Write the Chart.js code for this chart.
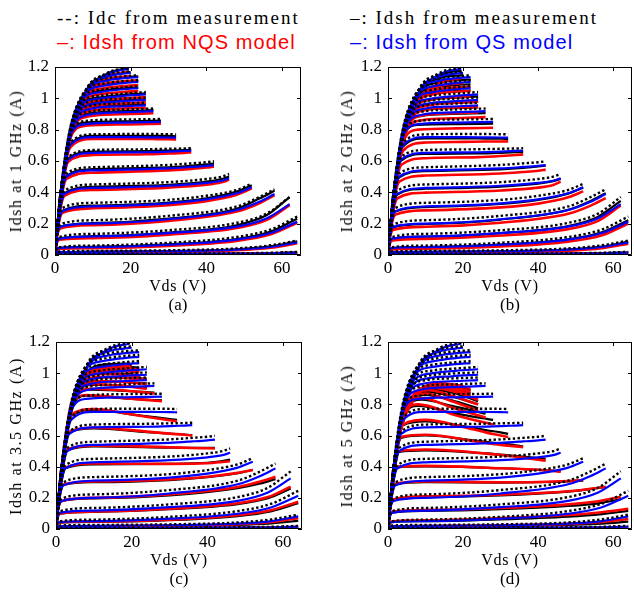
<!DOCTYPE html>
<html>
<head>
<meta charset="utf-8">
<script src="https://cdn.jsdelivr.net/npm/chart.js@4.4.1/dist/chart.umd.min.js"></script>
<style>
  html, body { margin: 0; padding: 0; background: #fff; }
  #page { position: relative; width: 634px; height: 594px; overflow: hidden; }
  canvas { position: absolute; }
  .txt { position: absolute; white-space: nowrap; line-height: 1; transform: translate(-50%, -50%); font-family: "Liberation Serif", "Times New Roman", serif; color: #000; }
  .ytitle { font-size: 16px; letter-spacing: 1.6px; transform: translate(-50%, -50%) rotate(-90deg); }
  .xtitle { font-size: 16px; letter-spacing: 0.8px; }
  .tag { font-size: 17px; }
  .leg { position: absolute; white-space: nowrap; line-height: 1; transform: translateY(-50%); }
  .leg.serif { font-family: "Liberation Serif", serif; font-size: 19px; letter-spacing: 2px; color: #000; }
  .leg.sans { font-family: "Liberation Sans", Arial, sans-serif; font-size: 20px; letter-spacing: 1.1px; }
</style>
</head>
<body>
<div id="page">
  <div class="leg serif" style="left:57px; top:17px;">--: Idc from measurement</div>
  <div class="leg serif" style="left:350px; top:17px;">&ndash;: Idsh from measurement</div>
  <div class="leg sans" style="left:57px; top:42px; color:#ff0000;">&ndash;: Idsh from NQS model</div>
  <div class="leg sans" style="left:350px; top:42px; color:#0000ff;">&ndash;: Idsh from QS model</div>
</div>
<script>
// tick labels
const vdsTicks = [0, 20, 40, 60];
const idsTicks = [0, 0.2, 0.4, 0.6, 0.8, 1, 1.2];

// Vds sample points of each swept curve (V), lowest gate bias first
const curveVds = [
  [0, 0.2, 1, 10, 30, 48, 57, 64],
  [0, 0.2, 1, 10, 30, 48, 57, 64],
  [0, 0.3, 1, 10, 30, 48, 57, 64],
  [0, 0.4, 1.2, 10, 30, 48, 56, 62],
  [0, 0.5, 1.5, 10, 30, 48, 54, 58],
  [0, 0.6, 2, 10, 30, 40, 48, 52],
  [0, 0.8, 2.5, 10, 30, 40, 44, 46],
  [0, 1, 3, 10, 30, 36, 40, 42],
  [0, 1.2, 3.5, 10, 24, 30, 34, 36],
  [0, 1.4, 4, 10, 20, 26, 30, 32],
  [0, 1.5, 4, 8, 18, 28],
  [0, 1.5, 4.5, 9, 17, 26],
  [0, 1.5, 5, 10, 17, 24],
  [0, 1.5, 5.5, 11, 17, 24],
  [0, 1.5, 6, 12, 18, 24],
  [0, 1.5, 6.5, 12, 18, 22],
  [0, 1.5, 7, 13, 18, 22],
  [0, 1.5, 8, 14, 19, 22],
  [0, 1.5, 8, 14, 18, 20],
  [0, 1.5, 4, 8, 14, 19.5]
];

// Idc from measurement (A), same in every panel
const idcMeas = [
  [0, 0.005, 0.007, 0.008, 0.009, 0.011, 0.014, 0.02],
  [0, 0.015, 0.022, 0.026, 0.03, 0.042, 0.062, 0.092],
  [0, 0.036, 0.05, 0.06, 0.078, 0.115, 0.163, 0.245],
  [0, 0.08, 0.115, 0.135, 0.158, 0.205, 0.265, 0.37],
  [0, 0.125, 0.195, 0.222, 0.25, 0.31, 0.37, 0.42],
  [0, 0.155, 0.3, 0.333, 0.352, 0.378, 0.415, 0.455],
  [0, 0.205, 0.41, 0.45, 0.465, 0.485, 0.5, 0.517],
  [0, 0.255, 0.52, 0.56, 0.575, 0.585, 0.592, 0.598],
  [0, 0.305, 0.625, 0.67, 0.675, 0.678, 0.68, 0.682],
  [0, 0.355, 0.715, 0.77, 0.772, 0.772, 0.771, 0.77],
  [0, 0.375, 0.775, 0.855, 0.865, 0.868],
  [0, 0.38, 0.825, 0.915, 0.928, 0.935],
  [0, 0.385, 0.865, 0.955, 0.966, 0.972],
  [0, 0.39, 0.905, 0.985, 0.997, 1.005],
  [0, 0.395, 0.945, 1.018, 1.03, 1.04],
  [0, 0.395, 0.985, 1.055, 1.07, 1.078],
  [0, 0.4, 1.015, 1.095, 1.11, 1.117],
  [0, 0.405, 1.045, 1.128, 1.142, 1.147],
  [0, 0.405, 1.045, 1.152, 1.168, 1.172],
  [0, 0.405, 0.81, 1.045, 1.165, 1.195]
];

// Idsh from QS model (A), frequency independent
const idshQS = [
  [0, 0.004, 0.006, 0.006, 0.007, 0.009, 0.011, 0.015],
  [0, 0.012, 0.018, 0.02, 0.024, 0.034, 0.051, 0.081],
  [0, 0.032, 0.044, 0.05, 0.066, 0.098, 0.14, 0.213],
  [0, 0.075, 0.105, 0.118, 0.14, 0.181, 0.235, 0.325],
  [0, 0.12, 0.18, 0.2, 0.228, 0.287, 0.34, 0.389],
  [0, 0.15, 0.28, 0.31, 0.33, 0.355, 0.394, 0.432],
  [0, 0.2, 0.39, 0.428, 0.442, 0.46, 0.474, 0.489],
  [0, 0.25, 0.5, 0.54, 0.553, 0.562, 0.569, 0.574],
  [0, 0.3, 0.61, 0.652, 0.656, 0.66, 0.664, 0.666],
  [0, 0.35, 0.7, 0.752, 0.752, 0.751, 0.75, 0.749],
  [0, 0.37, 0.76, 0.835, 0.845, 0.85],
  [0, 0.375, 0.81, 0.895, 0.91, 0.918],
  [0, 0.38, 0.85, 0.935, 0.948, 0.955],
  [0, 0.385, 0.89, 0.968, 0.98, 0.99],
  [0, 0.39, 0.93, 1.0, 1.015, 1.025],
  [0, 0.39, 0.97, 1.04, 1.058, 1.065],
  [0, 0.395, 1.0, 1.08, 1.097, 1.105],
  [0, 0.4, 1.03, 1.115, 1.13, 1.135],
  [0, 0.4, 1.03, 1.14, 1.158, 1.163],
  [0, 0.4, 0.8, 1.03, 1.155, 1.19]
];

// Idsh from measurement (A)
const idshMeas1G = [
  [0, 0.004, 0.006, 0.006, 0.007, 0.009, 0.012, 0.017],
  [0, 0.012, 0.018, 0.021, 0.025, 0.036, 0.055, 0.088],
  [0, 0.032, 0.045, 0.052, 0.068, 0.102, 0.15, 0.232],
  [0, 0.075, 0.106, 0.12, 0.143, 0.19, 0.255, 0.37],
  [0, 0.12, 0.182, 0.203, 0.232, 0.295, 0.36, 0.41],
  [0, 0.15, 0.283, 0.315, 0.335, 0.362, 0.405, 0.445],
  [0, 0.2, 0.395, 0.435, 0.448, 0.468, 0.485, 0.5],
  [0, 0.25, 0.505, 0.548, 0.56, 0.57, 0.578, 0.585],
  [0, 0.3, 0.615, 0.66, 0.663, 0.667, 0.67, 0.673],
  [0, 0.35, 0.705, 0.76, 0.76, 0.76, 0.76, 0.758],
  [0, 0.37, 0.765, 0.845, 0.853, 0.858],
  [0, 0.375, 0.815, 0.902, 0.917, 0.925],
  [0, 0.38, 0.855, 0.942, 0.955, 0.962],
  [0, 0.385, 0.895, 0.975, 0.987, 0.997],
  [0, 0.39, 0.935, 1.007, 1.022, 1.032],
  [0, 0.39, 0.975, 1.047, 1.064, 1.07],
  [0, 0.395, 1.005, 1.087, 1.103, 1.11],
  [0, 0.4, 1.035, 1.12, 1.135, 1.14],
  [0, 0.4, 1.035, 1.145, 1.162, 1.167],
  [0, 0.4, 0.805, 1.035, 1.16, 1.192]
];
const idshMeas2G = [
  [0, 0.004, 0.006, 0.006, 0.007, 0.009, 0.012, 0.016],
  [0, 0.012, 0.018, 0.02, 0.024, 0.035, 0.053, 0.085],
  [0, 0.031, 0.043, 0.05, 0.066, 0.1, 0.145, 0.222],
  [0, 0.074, 0.104, 0.117, 0.14, 0.185, 0.245, 0.345],
  [0, 0.118, 0.178, 0.198, 0.226, 0.288, 0.345, 0.395],
  [0, 0.148, 0.277, 0.306, 0.326, 0.352, 0.392, 0.43],
  [0, 0.198, 0.386, 0.423, 0.437, 0.456, 0.472, 0.486],
  [0, 0.248, 0.495, 0.535, 0.547, 0.556, 0.565, 0.57],
  [0, 0.298, 0.603, 0.645, 0.648, 0.652, 0.656, 0.658],
  [0, 0.348, 0.692, 0.745, 0.745, 0.743, 0.742, 0.74],
  [0, 0.368, 0.752, 0.83, 0.836, 0.838],
  [0, 0.372, 0.8, 0.888, 0.9, 0.905],
  [0, 0.378, 0.842, 0.928, 0.938, 0.942],
  [0, 0.383, 0.882, 0.96, 0.97, 0.977],
  [0, 0.388, 0.922, 0.993, 1.005, 1.012],
  [0, 0.388, 0.962, 1.032, 1.046, 1.05],
  [0, 0.393, 0.992, 1.07, 1.084, 1.09],
  [0, 0.398, 1.022, 1.103, 1.116, 1.12],
  [0, 0.398, 1.022, 1.13, 1.145, 1.148],
  [0, 0.398, 0.8, 1.025, 1.148, 1.178]
];
const idshMeas35G = [
  [0, 0.003, 0.005, 0.005, 0.006, 0.007, 0.009, 0.011],
  [0, 0.01, 0.015, 0.017, 0.02, 0.026, 0.036, 0.052],
  [0, 0.03, 0.041, 0.046, 0.057, 0.083, 0.115, 0.165],
  [0, 0.072, 0.098, 0.11, 0.127, 0.16, 0.198, 0.26],
  [0, 0.118, 0.178, 0.196, 0.215, 0.262, 0.292, 0.32],
  [0, 0.15, 0.282, 0.3, 0.314, 0.332, 0.358, 0.38],
  [0, 0.2, 0.39, 0.415, 0.418, 0.425, 0.436, 0.445],
  [0, 0.252, 0.505, 0.53, 0.522, 0.52, 0.52, 0.52],
  [0, 0.302, 0.62, 0.645, 0.622, 0.612, 0.606, 0.602],
  [0, 0.355, 0.725, 0.765, 0.735, 0.718, 0.706, 0.7],
  [0, 0.37, 0.775, 0.855, 0.838, 0.825],
  [0, 0.375, 0.815, 0.895, 0.888, 0.875],
  [0, 0.38, 0.855, 0.925, 0.92, 0.905],
  [0, 0.385, 0.885, 0.948, 0.945, 0.935],
  [0, 0.39, 0.915, 0.975, 0.972, 0.965],
  [0, 0.39, 0.948, 0.998, 0.995, 0.988],
  [0, 0.395, 0.975, 1.02, 1.018, 1.012],
  [0, 0.4, 1.0, 1.04, 1.04, 1.035],
  [0, 0.4, 1.0, 1.055, 1.055, 1.052],
  [0, 0.4, 0.8, 1.0, 1.058, 1.062]
];
const idshMeas5G = [
  [0, 0.003, 0.004, 0.004, 0.005, 0.006, 0.007, 0.009],
  [0, 0.009, 0.014, 0.016, 0.019, 0.026, 0.035, 0.047],
  [0, 0.028, 0.044, 0.05, 0.062, 0.08, 0.096, 0.116],
  [0, 0.072, 0.105, 0.116, 0.127, 0.148, 0.165, 0.19],
  [0, 0.118, 0.185, 0.204, 0.215, 0.24, 0.256, 0.27],
  [0, 0.15, 0.285, 0.3, 0.298, 0.3, 0.305, 0.31],
  [0, 0.2, 0.395, 0.402, 0.39, 0.38, 0.374, 0.37],
  [0, 0.25, 0.495, 0.505, 0.478, 0.465, 0.455, 0.45],
  [0, 0.3, 0.585, 0.6, 0.565, 0.548, 0.537, 0.53],
  [0, 0.35, 0.665, 0.69, 0.66, 0.635, 0.62, 0.61],
  [0, 0.36, 0.715, 0.79, 0.74, 0.7],
  [0, 0.365, 0.755, 0.83, 0.79, 0.74],
  [0, 0.37, 0.785, 0.86, 0.825, 0.775],
  [0, 0.375, 0.805, 0.88, 0.85, 0.8],
  [0, 0.38, 0.825, 0.895, 0.87, 0.82],
  [0, 0.38, 0.845, 0.905, 0.885, 0.85],
  [0, 0.385, 0.855, 0.915, 0.9, 0.87],
  [0, 0.39, 0.865, 0.92, 0.91, 0.89],
  [0, 0.39, 0.865, 0.925, 0.915, 0.905],
  [0, 0.39, 0.745, 0.86, 0.92, 0.91]
];

// Idsh from NQS model (A)
const idshNqs1G = [
  [0, 0.003, 0.005, 0.005, 0.006, 0.008, 0.01, 0.013],
  [0, 0.01, 0.015, 0.017, 0.02, 0.03, 0.046, 0.075],
  [0, 0.028, 0.038, 0.044, 0.058, 0.09, 0.132, 0.205],
  [0, 0.07, 0.097, 0.108, 0.13, 0.172, 0.225, 0.318],
  [0, 0.115, 0.17, 0.19, 0.217, 0.277, 0.33, 0.382],
  [0, 0.145, 0.27, 0.298, 0.318, 0.343, 0.384, 0.425],
  [0, 0.195, 0.378, 0.415, 0.43, 0.448, 0.464, 0.48],
  [0, 0.245, 0.485, 0.525, 0.54, 0.55, 0.558, 0.565],
  [0, 0.295, 0.595, 0.638, 0.643, 0.648, 0.652, 0.655],
  [0, 0.345, 0.685, 0.74, 0.741, 0.74, 0.739, 0.738],
  [0, 0.365, 0.745, 0.825, 0.833, 0.838],
  [0, 0.37, 0.795, 0.885, 0.898, 0.905],
  [0, 0.375, 0.835, 0.922, 0.934, 0.94],
  [0, 0.38, 0.875, 0.955, 0.966, 0.974],
  [0, 0.385, 0.915, 0.988, 1.0, 1.008],
  [0, 0.385, 0.955, 1.026, 1.04, 1.046],
  [0, 0.39, 0.985, 1.065, 1.078, 1.085],
  [0, 0.395, 1.015, 1.098, 1.11, 1.115],
  [0, 0.395, 1.015, 1.122, 1.138, 1.142],
  [0, 0.395, 0.79, 1.015, 1.138, 1.17]
];
const idshNqs2G = [
  [0, 0.003, 0.004, 0.004, 0.005, 0.007, 0.009, 0.012],
  [0, 0.009, 0.013, 0.015, 0.018, 0.027, 0.043, 0.072],
  [0, 0.026, 0.035, 0.04, 0.054, 0.085, 0.126, 0.2],
  [0, 0.066, 0.092, 0.103, 0.124, 0.165, 0.218, 0.316],
  [0, 0.11, 0.162, 0.18, 0.206, 0.263, 0.315, 0.363],
  [0, 0.14, 0.258, 0.285, 0.304, 0.328, 0.368, 0.406],
  [0, 0.188, 0.362, 0.398, 0.412, 0.43, 0.447, 0.468],
  [0, 0.238, 0.468, 0.507, 0.52, 0.53, 0.538, 0.545],
  [0, 0.288, 0.575, 0.618, 0.625, 0.632, 0.638, 0.642],
  [0, 0.338, 0.665, 0.718, 0.722, 0.724, 0.724, 0.725],
  [0, 0.355, 0.72, 0.8, 0.808, 0.812],
  [0, 0.36, 0.77, 0.86, 0.872, 0.88],
  [0, 0.365, 0.81, 0.895, 0.905, 0.91],
  [0, 0.37, 0.85, 0.93, 0.94, 0.945],
  [0, 0.375, 0.885, 0.96, 0.972, 0.978],
  [0, 0.375, 0.92, 0.995, 1.008, 1.012],
  [0, 0.38, 0.95, 1.03, 1.042, 1.046],
  [0, 0.385, 0.975, 1.06, 1.07, 1.074],
  [0, 0.385, 0.975, 1.08, 1.094, 1.097],
  [0, 0.385, 0.77, 0.98, 1.1, 1.125]
];
const idshNqs35G = [
  [0, 0.003, 0.005, 0.005, 0.006, 0.007, 0.009, 0.012],
  [0, 0.01, 0.016, 0.018, 0.022, 0.03, 0.045, 0.07],
  [0, 0.03, 0.042, 0.048, 0.06, 0.088, 0.122, 0.175],
  [0, 0.072, 0.1, 0.112, 0.13, 0.165, 0.205, 0.272],
  [0, 0.118, 0.18, 0.2, 0.222, 0.27, 0.305, 0.335],
  [0, 0.15, 0.285, 0.305, 0.318, 0.335, 0.36, 0.378],
  [0, 0.2, 0.395, 0.42, 0.418, 0.422, 0.43, 0.435],
  [0, 0.252, 0.51, 0.535, 0.525, 0.52, 0.518, 0.517],
  [0, 0.302, 0.625, 0.65, 0.625, 0.612, 0.605, 0.6],
  [0, 0.355, 0.73, 0.77, 0.735, 0.712, 0.698, 0.69],
  [0, 0.37, 0.78, 0.86, 0.84, 0.82],
  [0, 0.375, 0.82, 0.9, 0.89, 0.87],
  [0, 0.38, 0.86, 0.93, 0.92, 0.9],
  [0, 0.385, 0.89, 0.95, 0.945, 0.93],
  [0, 0.39, 0.92, 0.975, 0.97, 0.96],
  [0, 0.39, 0.95, 0.995, 0.99, 0.98],
  [0, 0.395, 0.97, 1.015, 1.012, 1.005],
  [0, 0.4, 0.99, 1.03, 1.03, 1.025],
  [0, 0.4, 0.99, 1.04, 1.04, 1.038],
  [0, 0.4, 0.8, 0.99, 1.04, 1.045]
];
const idshNqs5G = [
  [0, 0.003, 0.004, 0.004, 0.005, 0.006, 0.008, 0.01],
  [0, 0.01, 0.016, 0.019, 0.024, 0.033, 0.045, 0.064],
  [0, 0.03, 0.048, 0.056, 0.07, 0.09, 0.108, 0.13],
  [0, 0.075, 0.11, 0.122, 0.135, 0.158, 0.178, 0.207],
  [0, 0.12, 0.19, 0.21, 0.22, 0.242, 0.258, 0.27],
  [0, 0.15, 0.29, 0.305, 0.3, 0.302, 0.308, 0.314],
  [0, 0.2, 0.4, 0.405, 0.39, 0.38, 0.372, 0.367],
  [0, 0.25, 0.5, 0.51, 0.475, 0.458, 0.445, 0.438],
  [0, 0.3, 0.59, 0.605, 0.56, 0.54, 0.53, 0.525],
  [0, 0.35, 0.67, 0.7, 0.655, 0.62, 0.6, 0.59],
  [0, 0.36, 0.72, 0.8, 0.73, 0.67],
  [0, 0.365, 0.76, 0.84, 0.78, 0.715],
  [0, 0.37, 0.79, 0.87, 0.82, 0.76],
  [0, 0.375, 0.81, 0.89, 0.855, 0.8],
  [0, 0.38, 0.83, 0.905, 0.88, 0.83],
  [0, 0.38, 0.85, 0.915, 0.895, 0.86],
  [0, 0.385, 0.86, 0.925, 0.91, 0.88],
  [0, 0.39, 0.87, 0.93, 0.92, 0.9],
  [0, 0.39, 0.87, 0.935, 0.925, 0.915],
  [0, 0.39, 0.75, 0.87, 0.93, 0.92]
];

// plot boxes in page pixels: left, top, right, bottom
const panels = [
  { tag: '(a)', freq: '1 GHz',   box: [55, 67, 301, 255],  ytx: 16,  meas: idshMeas1G,  nqs: idshNqs1G },
  { tag: '(b)', freq: '2 GHz',   box: [388, 67, 632, 255], ytx: 347, meas: idshMeas2G,  nqs: idshNqs2G },
  { tag: '(c)', freq: '3.5 GHz', box: [56, 342, 302, 529], ytx: 16,  meas: idshMeas35G, nqs: idshNqs35G },
  { tag: '(d)', freq: '5 GHz',   box: [388, 342, 632, 529], ytx: 347, meas: idshMeas5G,  nqs: idshNqs5G }
];

const PAD_TOP = 17, Y_W = 55, X_H = 45, PAD_R = 2;

// MATLAB-like box with inward ticks on all four sides
const boxTicks = {
  id: 'boxTicks',
  afterDatasetsDraw(chart) {
    const { ctx, chartArea: a, scales: { x, y } } = chart;
    ctx.save();
    ctx.strokeStyle = '#000';
    ctx.lineWidth = 1;
    ctx.beginPath();
    ctx.rect(a.left + 0.5, a.top + 0.5, a.right - a.left - 1, a.bottom - a.top - 1);
    x.ticks.forEach(t => {
      const px = Math.round(x.getPixelForValue(t.value)) + 0.5;
      ctx.moveTo(px, a.bottom); ctx.lineTo(px, a.bottom - 4);
      ctx.moveTo(px, a.top); ctx.lineTo(px, a.top + 4);
    });
    y.ticks.forEach(t => {
      const py = Math.round(y.getPixelForValue(t.value)) + 0.5;
      ctx.moveTo(a.left, py); ctx.lineTo(a.left + 4, py);
      ctx.moveTo(a.right, py); ctx.lineTo(a.right - 4, py);
    });
    ctx.stroke();
    ctx.restore();
  }
};

function curves(yLists, style) {
  return yLists.map((ys, i) => Object.assign({
    data: ys.map((v, j) => ({ x: curveVds[i][j], y: v })),
    pointRadius: 0,
    fill: false,
    cubicInterpolationMode: 'monotone'
  }, style));
}

const tickFont = { family: '"Liberation Serif", "Times New Roman", serif', size: 17 };
const page = document.getElementById('page');

panels.forEach(p => {
  const [l, t, r, b] = p.box;
  const cv = document.createElement('canvas');
  const w = r - l + Y_W + PAD_R, h = b - t + PAD_TOP + X_H;
  cv.width = w; cv.height = h;
  cv.style.left = (l - Y_W) + 'px';
  cv.style.top = (t - PAD_TOP) + 'px';
  cv.style.width = w + 'px'; cv.style.height = h + 'px';
  page.appendChild(cv);

  const datasets = [
    ...curves(idcMeas, { borderColor: '#000', borderWidth: 2.4, borderDash: [2.4, 2.4], order: 0 }),
    ...curves(idshQS, { borderColor: '#0000ff', borderWidth: 2.2, order: 1 }),
    ...curves(p.nqs, { borderColor: '#ff0000', borderWidth: 2.6, order: 2 }),
    ...curves(p.meas, { borderColor: '#000', borderWidth: 2.2, order: 3 })
  ];

  new Chart(cv.getContext('2d'), {
    type: 'line',
    data: { datasets },
    plugins: [boxTicks],
    options: {
      responsive: false,
      animation: false,
      devicePixelRatio: 1,
      layout: { padding: { top: PAD_TOP, right: PAD_R, left: 0, bottom: 0 } },
      plugins: { legend: { display: false }, tooltip: { enabled: false } },
      scales: {
        x: {
          type: 'linear', min: 0, max: 65,
          grid: { display: false, drawTicks: false },
          border: { display: false },
          afterBuildTicks: s => { s.ticks = vdsTicks.map(v => ({ value: v })); },
          afterFit: s => { s.height = X_H; },
          ticks: { color: '#000', font: tickFont, padding: 3, maxRotation: 0, callback: v => String(v) }
        },
        y: {
          type: 'linear', min: 0, max: 1.2,
          grid: { display: false, drawTicks: false },
          border: { display: false },
          afterBuildTicks: s => { s.ticks = idsTicks.map(v => ({ value: v })); },
          afterFit: s => { s.width = Y_W; },
          ticks: { color: '#000', font: tickFont, padding: 6, callback: v => String(v) }
        }
      }
    }
  });

  const cx = (l + r) / 2;
  const addText = (cls, text, x, y) => {
    const d = document.createElement('div');
    d.className = 'txt ' + cls;
    d.textContent = text;
    d.style.left = x + 'px';
    d.style.top = y + 'px';
    page.appendChild(d);
  };
  addText('ytitle', 'Idsh at ' + p.freq + ' (A)', p.ytx, (t + b) / 2);
  addText('xtitle', 'Vds (V)', cx, b + 31);
  addText('tag', p.tag, cx, b + 49);
});
</script>
</body>
</html>
